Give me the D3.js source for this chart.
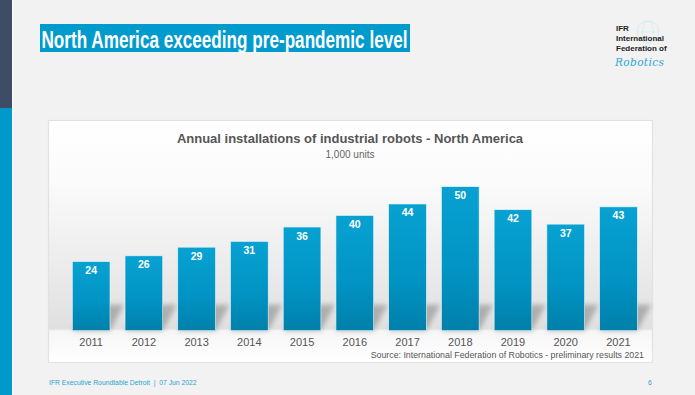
<!DOCTYPE html>
<html>
<head>
<meta charset="utf-8">
<script src="https://cdn.jsdelivr.net/npm/d3@7"></script>
<style>
  html, body { margin: 0; padding: 0; background: #f2f2f2; }
  svg { display: block; font-family: "Liberation Sans", Arial, sans-serif; }
</style>
</head>
<body>
<svg width="695" height="395"></svg>
<script>
// chart data
const years = ["2011", "2012", "2013", "2014", "2015", "2016", "2017", "2018", "2019", "2020", "2021"];
const installs = [24, 26, 29, 31, 36, 40, 44, 50, 42, 37, 43];

const slideTitle = "North America exceeding pre-pandemic level";
const chartTitle = "Annual installations of industrial robots - North America";
const chartUnit = "1,000 units";
const sourceText = "Source: International Federation of Robotics - preliminary results 2021";
const footerText = "IFR Executive Roundtable Detroit  |  07 Jun 2022";
const pageNo = "6";
const logoLines = ["IFR", "International", "Federation of"];

let svg = d3.select("svg");
let defs = svg.append("defs");

// gradients
let panelGrad = defs.append("linearGradient").attr("id", "panelGrad")
    .attr("x1", 0).attr("y1", 0).attr("x2", 0).attr("y2", 1);
[[0, "#ffffff"], [0.25, "#fbfbfb"], [0.55, "#eeeeee"], [0.86, "#e0e0e0"], [0.87, "#f6f6f6"], [1, "#ffffff"]]
    .forEach(s => panelGrad.append("stop").attr("offset", s[0]).attr("stop-color", s[1]));

let barGrad = defs.append("linearGradient").attr("id", "barGrad")
    .attr("x1", 0).attr("y1", 0).attr("x2", 0).attr("y2", 1);
[[0, "#07a2d2"], [0.6, "#0193c3"], [1, "#0080a9"]]
    .forEach(s => barGrad.append("stop").attr("offset", s[0]).attr("stop-color", s[1]));

defs.append("filter").attr("id", "blur").attr("x", "-50%").attr("y", "-50%").attr("width", "200%").attr("height", "200%")
    .append("feGaussianBlur").attr("stdDeviation", 2.5);

// left strip
svg.append("rect").attr("x", 0).attr("y", 0).attr("width", 12).attr("height", 108).attr("fill", "#3e4c66");
svg.append("rect").attr("x", 0).attr("y", 108).attr("width", 12).attr("height", 287).attr("fill", "#0099cc");
svg.append("rect").attr("x", 12).attr("y", 0).attr("width", 1).attr("height", 395).attr("fill", "#ffffff");

// slide title
svg.append("rect").attr("x", 40).attr("y", 24).attr("width", 370).attr("height", 28).attr("fill", "#009bcd");
svg.append("text").attr("x", 41.5).attr("y", 47.5)
    .attr("font-size", 24).attr("font-weight", "bold").attr("fill", "#ffffff")
    .attr("textLength", 366).attr("lengthAdjust", "spacingAndGlyphs")
    .text(slideTitle);

// logo
svg.append("circle").attr("cx", 648).attr("cy", 32).attr("r", 11)
    .attr("fill", "none").attr("stroke", "#cfe8f5").attr("stroke-width", 0.8);
svg.append("ellipse").attr("cx", 648).attr("cy", 32).attr("rx", 5.5).attr("ry", 11)
    .attr("fill", "none").attr("stroke", "#cfe8f5").attr("stroke-width", 0.6);
svg.append("line").attr("x1", 637).attr("x2", 659).attr("y1", 32).attr("y2", 32)
    .attr("stroke", "#cfe8f5").attr("stroke-width", 0.6);
svg.selectAll("text.logo").data(logoLines).join("text").attr("class", "logo")
    .attr("x", 616).attr("y", (d, i) => 31 + i * 10)
    .attr("font-size", 8).attr("font-weight", "bold").attr("fill", "#222")
    .text(d => d);
svg.append("text").attr("x", 615).attr("y", 66)
    .attr("font-size", 10.5).attr("font-style", "italic").attr("fill", "#2aa7d8")
    .attr("font-family", "'DejaVu Serif', serif").attr("letter-spacing", 0.4)
    .text("Robotics");

// chart panel
svg.append("rect").attr("x", 48.5).attr("y", 120.5).attr("width", 604).attr("height", 242)
    .attr("fill", "url(#panelGrad)").attr("stroke", "#e2e2e2").attr("stroke-width", 1.2);

let x = d3.scaleBand().domain(years).range([72.3, 637.3]).paddingInner(0.285).paddingOuter(0);
let y = d3.scaleLinear().domain([0, 50]).range([330.7, 186.7]);

// shadows behind bars
let shadow = svg.append("g").attr("filter", "url(#blur)");
shadow.selectAll("path").data(years).join("path")
    .attr("d", (d, i) => {
        let x0 = x(d), x1 = x(d) + x.bandwidth(), b = y(0);
        return `M${x0},${b} L${x1},${b} L${x1 + 14},${b - 26} L${x0 + 14},${b - 26} Z`;
    })
    .attr("fill", "#a0a0a0").attr("opacity", 0.8);

// bars
svg.selectAll("rect.bar").data(installs).join("rect").attr("class", "bar")
    .attr("x", (d, i) => x(years[i]))
    .attr("y", d => y(d))
    .attr("width", x.bandwidth())
    .attr("height", d => y(0) - y(d))
    .attr("fill", "url(#barGrad)")
    .attr("stroke", "#e8f4fa").attr("stroke-width", 0.6);

// value labels
svg.selectAll("text.val").data(installs).join("text").attr("class", "val")
    .attr("x", (d, i) => x(years[i]) + x.bandwidth() / 2)
    .attr("y", d => y(d) + 12.5)
    .attr("text-anchor", "middle").attr("font-size", 10.5).attr("font-weight", "bold").attr("fill", "#ffffff")
    .text(d => d);

// x axis labels
let xAxis = svg.append("g").attr("transform", `translate(0,${y(0)})`)
    .call(d3.axisBottom(x).tickSize(0).tickPadding(7.5));
xAxis.select(".domain").remove();
xAxis.selectAll("text").attr("font-size", 11).attr("fill", "#555555")
    .attr("font-family", "'Liberation Sans', Arial, sans-serif").attr("dy", "0.71em");

// chart titles
svg.append("text").attr("x", 350).attr("y", 143)
    .attr("text-anchor", "middle").attr("font-size", 13).attr("font-weight", "bold").attr("fill", "#555555")
    .text(chartTitle);
svg.append("text").attr("x", 350).attr("y", 157.5)
    .attr("text-anchor", "middle").attr("font-size", 10).attr("fill", "#666666")
    .text(chartUnit);

// source
svg.append("text").attr("x", 644).attr("y", 357.5)
    .attr("text-anchor", "end").attr("font-size", 8.8).attr("fill", "#555555")
    .text(sourceText);

// footer
svg.append("text").attr("x", 49).attr("y", 385)
    .attr("font-size", 6.8).attr("fill", "#2aa3d0").attr("xml:space", "preserve")
    .text(footerText);
svg.append("text").attr("x", 648).attr("y", 385)
    .attr("font-size", 6.8).attr("fill", "#2aa3d0")
    .text(pageNo);
</script>
</body>
</html>
